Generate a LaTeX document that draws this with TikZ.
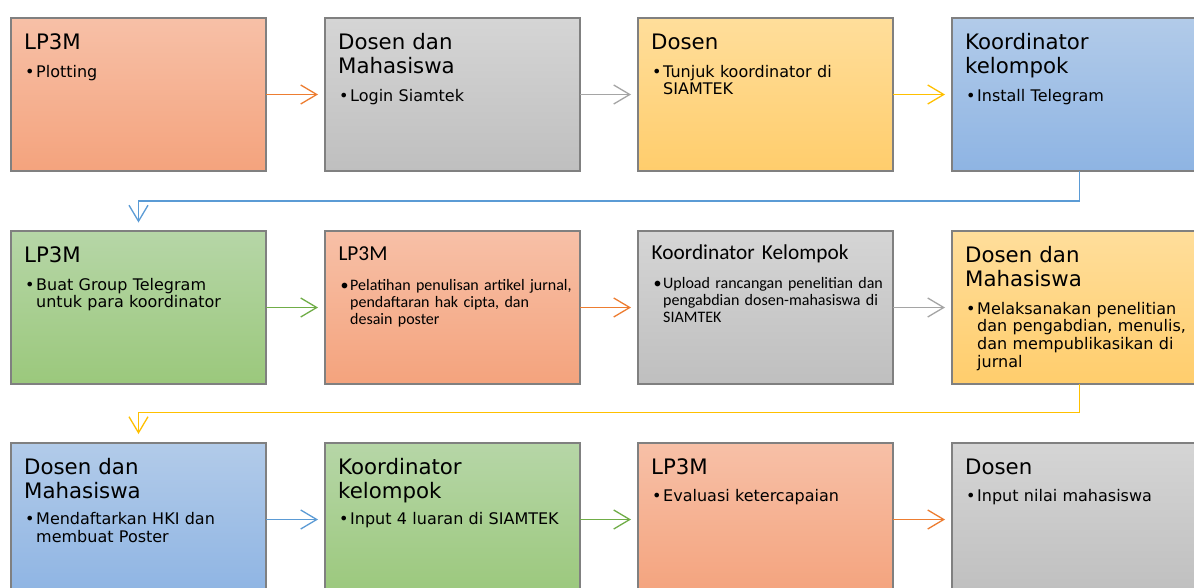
\documentclass[tikz,border=0pt]{standalone}
\usepackage{fontspec}
\usetikzlibrary{arrows.meta,calc}
\newfontfamily\verd{DejaVu Sans}
\newfontfamily\calib{Carlito}
\definecolor{orT}{RGB}{247,192,167}
\definecolor{orB}{RGB}{244,163,125}
\definecolor{grT}{RGB}{213,213,213}
\definecolor{grB}{RGB}{191,191,191}
\definecolor{yeT}{RGB}{255,222,155}
\definecolor{yeB}{RGB}{255,205,108}
\definecolor{blT}{RGB}{178,203,233}
\definecolor{blB}{RGB}{142,180,227}
\definecolor{gnT}{RGB}{182,214,167}
\definecolor{gnB}{RGB}{155,200,124}
\definecolor{edgegray}{RGB}{128,128,128}
\definecolor{aOr}{RGB}{237,125,49}
\definecolor{aGr}{RGB}{165,165,165}
\definecolor{aYe}{RGB}{255,192,0}
\definecolor{aBl}{RGB}{91,155,213}
\definecolor{aGn}{RGB}{112,173,71}
\begin{document}
\begin{tikzpicture}[x=1pt,y=-1pt,
  box/.style={draw=edgegray, line width=1.2pt, minimum width=255pt, minimum height=153pt, anchor=north west, inner sep=0pt, outer sep=0pt},
  orbox/.style={box, top color=orT, bottom color=orB},
  grbox/.style={box, top color=grT, bottom color=grB},
  yebox/.style={box, top color=yeT, bottom color=yeB},
  blbox/.style={box, top color=blT, bottom color=blB},
  gnbox/.style={box, top color=gnT, bottom color=gnB},
  vhead/.style={anchor=base west, inner sep=0pt, font=\verd\fontsize{21.3}{24}\selectfont, text width=240pt, align=left},
  vbody/.style={anchor=base west, inner sep=0pt, font=\verd\fontsize{16}{17.8}\selectfont, text width=240pt, align=left},
  vdot/.style={anchor=base west, inner sep=0pt, font=\verd\fontsize{16}{17.8}\selectfont},
  chead/.style={anchor=base west, inner sep=0pt, font=\calib\fontsize{21.3}{24}\selectfont, text width=240pt, align=left},
  cbody/.style={anchor=base west, inner sep=0pt, font=\calib\fontsize{16}{17}\selectfont, text width=240pt, align=left},
  cdot/.style={anchor=base west, inner sep=0pt, font=\calib\fontsize{16}{17}\selectfont},
  conn/.style={line width=1.3pt, -{Straight Barb[length=16pt,width=19pt,line width=1.3pt]}, shorten >=7pt},
]
\useasboundingbox (0,0) rectangle (1194,587);
\clip (0,0) rectangle (1194,587);
\fill[white] (0,0) rectangle (1194,587);

% boxes
\node[orbox] (b1) at (11,18) {};
\node[grbox] (b2) at (325,18) {};
\node[yebox] (b3) at (638,18) {};
\node[blbox] (b4) at (952,18) {};
\node[gnbox] (b5) at (11,231) {};
\node[orbox] (b6) at (325,231) {};
\node[grbox] (b7) at (638,231) {};
\node[yebox] (b8) at (952,231) {};
\node[blbox] (b9) at (11,443) {};
\node[gnbox] (b10) at (325,443) {};
\node[orbox] (b11) at (638,443) {};
\node[grbox] (b12) at (952,443) {};

% texts row 1
\node[vhead] (b1h) at ($(b1.north west)+(13,31.5)$) {LP3M};
\node[vdot] (b1d) at ($(b1.north west)+(14,59)$) {•};
\node[vbody] (b1t) at ($(b1.north west)+(25,59)$) {Plotting};

\node[vhead] (b2h) at ($(b2.north west)+(13,31.5)$) {Dosen dan\\Mahasiswa};
\node[vdot] (b2d) at ($(b2.north west)+(14,83)$) {•};
\node[vbody] (b2t) at ($(b2.north west)+(25,83)$) {Login Siamtek};

\node[vhead] (b3h) at ($(b3.north west)+(13,31.5)$) {Dosen};
\node[vdot] (b3d) at ($(b3.north west)+(14,59)$) {•};
\node[vbody] (b3t) at ($(b3.north west)+(25,59)$) {Tunjuk koordinator di\\SIAMTEK};

\node[vhead] (b4h) at ($(b4.north west)+(13,31.5)$) {Koordinator\\kelompok};
\node[vdot] (b4d) at ($(b4.north west)+(14,83)$) {•};
\node[vbody] (b4t) at ($(b4.north west)+(25,83)$) {Install Telegram};

% texts row 2
\node[vhead] (b5h) at ($(b5.north west)+(13,31.5)$) {LP3M};
\node[vdot] (b5d) at ($(b5.north west)+(14,59)$) {•};
\node[vbody] (b5t) at ($(b5.north west)+(25,59)$) {Buat Group Telegram\\untuk para koordinator};

\node[chead] (b6h) at ($(b6.north west)+(13.3,29)$) {LP3M};
\node[cdot] (b6d) at ($(b6.north west)+(15.5,59)$) {•};
\node[cbody] (b6t) at ($(b6.north west)+(25,59)$) {Pelatihan penulisan artikel jurnal,\\pendaftaran hak cipta, dan\\desain poster};

\node[chead] (b7h) at ($(b7.north west)+(13.5,28)$) {Koordinator Kelompok};
\node[cdot] (b7d) at ($(b7.north west)+(15.5,57.5)$) {•};
\node[cbody] (b7t) at ($(b7.north west)+(25,57.5)$) {Upload rancangan penelitian dan\\pengabdian dosen-mahasiswa di\\SIAMTEK};

\node[vhead] (b8h) at ($(b8.north west)+(13,31.5)$) {Dosen dan\\Mahasiswa};
\node[vdot] (b8d) at ($(b8.north west)+(14,83)$) {•};
\node[vbody] (b8t) at ($(b8.north west)+(25,83)$) {Melaksanakan penelitian\\dan pengabdian, menulis,\\dan mempublikasikan di\\jurnal};

% texts row 3
\node[vhead] (b9h) at ($(b9.north west)+(13,31.5)$) {Dosen dan\\Mahasiswa};
\node[vdot] (b9d) at ($(b9.north west)+(14,81.5)$) {•};
\node[vbody] (b9t) at ($(b9.north west)+(25,81.5)$) {Mendaftarkan HKI dan\\membuat Poster};

\node[vhead] (b10h) at ($(b10.north west)+(13,31.5)$) {Koordinator\\kelompok};
\node[vdot] (b10d) at ($(b10.north west)+(14,81.5)$) {•};
\node[vbody] (b10t) at ($(b10.north west)+(25,81.5)$) {Input 4 luaran di SIAMTEK};

\node[vhead] (b11h) at ($(b11.north west)+(13,31.5)$) {LP3M};
\node[vdot] (b11d) at ($(b11.north west)+(14,58)$) {•};
\node[vbody] (b11t) at ($(b11.north west)+(25,58)$) {Evaluasi ketercapaian};

\node[vhead] (b12h) at ($(b12.north west)+(13,31.5)$) {Dosen};
\node[vdot] (b12d) at ($(b12.north west)+(14,58)$) {•};
\node[vbody] (b12t) at ($(b12.north west)+(25,58)$) {Input nilai mahasiswa};

% connectors
\draw[conn, aOr] (b1.east) -- (b2.west);
\draw[conn, aGr] (b2.east) -- (b3.west);
\draw[conn, aYe] (b3.east) -- (b4.west);
\coordinate (m1) at ($(b5.north)+(0,-30)$);
\draw[conn, aBl, shorten >=8.5pt] (b4.south) |- (m1) -- (b5.north);
\draw[conn, aGn] (b5.east) -- (b6.west);
\draw[conn, aOr] (b6.east) -- (b7.west);
\draw[conn, aGr] (b7.east) -- (b8.west);
\coordinate (m2) at ($(b9.north)+(0,-30.5)$);
\draw[conn, aYe, shorten >=9pt] (b8.south) |- (m2) -- (b9.north);
\draw[conn, aBl] (b9.east) -- (b10.west);
\draw[conn, aGn] (b10.east) -- (b11.west);
\draw[conn, aOr] (b11.east) -- (b12.west);
\end{tikzpicture}
\end{document}
